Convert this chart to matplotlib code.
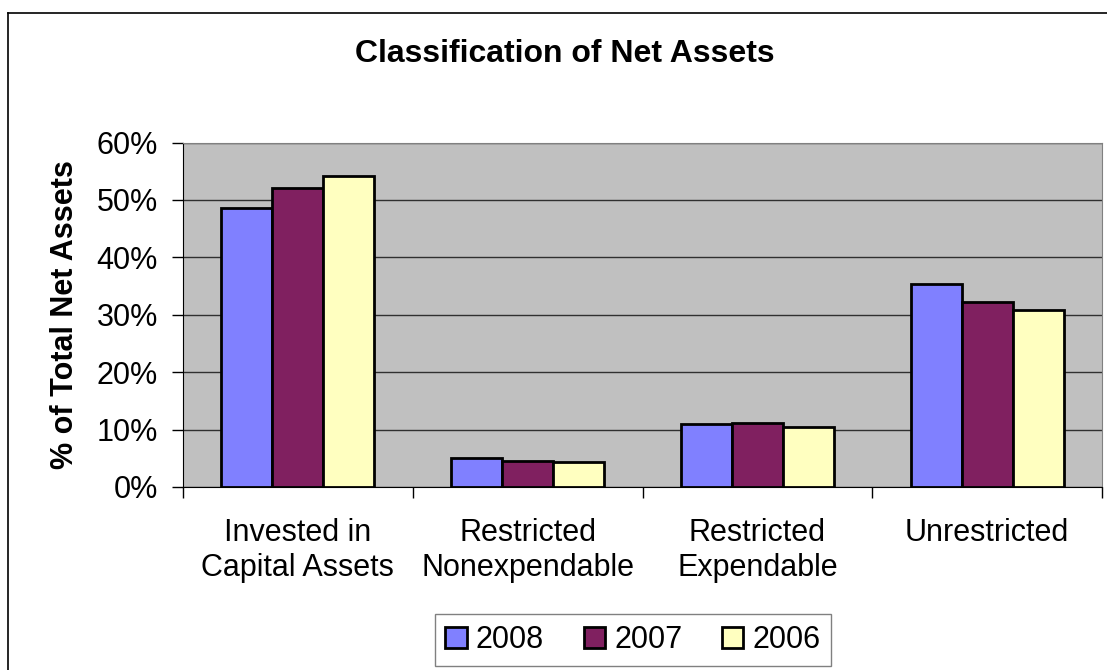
import matplotlib
matplotlib.use("Agg")
import matplotlib.pyplot as plt
import numpy as np
from matplotlib.lines import Line2D

categories = ["Invested in\nCapital Assets", "Restricted\nNonexpendable", "Restricted\nExpendable", "Unrestricted"]
series_names = ["2008", "2007", "2006"]
v2008 = [48.6, 5.1, 10.9, 35.3]
v2007 = [52.0, 4.5, 11.1, 32.2]
v2006 = [54.2, 4.4, 10.4, 30.9]
colors = ["#8080FF", "#802060", "#FFFFC0"]
yticks = [0, 10, 20, 30, 40, 50, 60]

plt.rcParams['font.family'] = ['Liberation Sans', 'DejaVu Sans']

fig = plt.figure(figsize=(11.07, 6.70), dpi=100)
W, H = 1107, 670
# outer chart border
fig.add_artist(Line2D([8/W, 8/W], [0, 1-13/H], transform=fig.transFigure, color="black", lw=1.2))
fig.add_artist(Line2D([8/W, 1], [1-13/H, 1-13/H], transform=fig.transFigure, color="black", lw=1.2))

ax = fig.add_axes([183/W, 1-487/H, (1102-183)/W, (487-142.5)/H])
ax.set_facecolor("#C0C0C0")
x = np.arange(len(categories))
bw = 0.222
for i, (vals, c) in enumerate(zip([v2008, v2007, v2006], colors)):
    ax.bar(x + (i-1)*bw, vals, width=bw, color=c, edgecolor="black", linewidth=2, zorder=3, label=series_names[i])

ax.set_xlim(-0.5, len(categories)-0.5)
ax.set_ylim(0, 60)
ax.set_yticks(yticks)
ax.set_yticklabels([f"{t}%" for t in yticks], fontsize=22)
ax.yaxis.grid(True, color="#303030", linewidth=1, zorder=1)
ax.set_axisbelow(True)
ax.set_xticks(np.arange(-0.5, len(categories), 1.0))
ax.set_xticklabels([])
ax.tick_params(axis="both", direction="out", length=8, width=1, color="black")
ax.tick_params(axis="y", pad=10)
for i, lab in enumerate(categories):
    ax.text(i, -5.4, lab, ha="center", va="top", fontsize=22, linespacing=1.2,
            transform=ax.transData)
for s in ["top", "right"]:
    ax.spines[s].set_color("#808080")
for s in ["left", "bottom"]:
    ax.spines[s].set_color("black")

ax.set_ylabel("% of Total Net Assets", fontsize=22, fontweight="bold", labelpad=12)
fig.text(565/W, 1-54/H, "Classification of Net Assets", ha="center", va="center",
         fontsize=23, fontweight="bold")

leg = fig.legend(loc="center", bbox_to_anchor=(633/W, 1-640/H), ncol=3, fontsize=22,
                 frameon=True, fancybox=False, edgecolor="#606060", handlelength=0.7,
                 handleheight=0.7, handletextpad=0.3, columnspacing=1.3, borderpad=0.35)
leg.get_frame().set_linewidth(1)

fig.savefig("out.png", dpi=100)
